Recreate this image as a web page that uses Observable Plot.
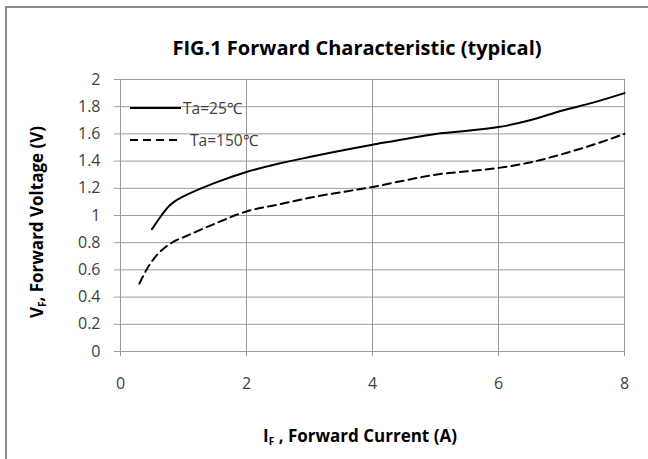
<!DOCTYPE html>
<html>
<head>
<meta charset="utf-8">
<script src="https://cdn.jsdelivr.net/npm/d3@7"></script>
<script src="https://cdn.jsdelivr.net/npm/@observablehq/plot@0.6"></script>
<style>
  html, body { margin: 0; padding: 0; background: #fff; }
  svg { display: block; }
</style>
</head>
<body>
<div id="chart"></div>
<script>
const title = "FIG.1 Forward Characteristic (typical)";
const seriesNames = ["Ta=25\u2103", "Ta=150\u2103"];
const currentTa25 = [0.5, 0.65, 0.75, 0.85, 1.0, 1.5, 2.0, 2.5, 3.0, 4.0, 5.0, 6.0, 6.5, 7.0, 7.5, 8.0];
const voltageTa25 = [0.90, 1.00, 1.06, 1.10, 1.14, 1.24, 1.32, 1.38, 1.43, 1.52, 1.60, 1.65, 1.70, 1.77, 1.83, 1.90];
const currentTa150 = [0.3, 0.45, 0.6, 0.75, 0.85, 1.0, 1.5, 2.0, 2.5, 3.0, 4.0, 5.0, 6.0, 6.5, 7.0, 7.5, 8.0];
const voltageTa150 = [0.50, 0.63, 0.72, 0.78, 0.81, 0.84, 0.94, 1.03, 1.08, 1.13, 1.21, 1.30, 1.35, 1.39, 1.45, 1.52, 1.60];
const xTicks = [0, 2, 4, 6, 8];
const yTicks = [0, 0.2, 0.4, 0.6, 0.8, 1, 1.2, 1.4, 1.6, 1.8, 2];

const d25 = currentTa25.map((x, i) => ({x, y: voltageTa25[i]}));
const d150 = currentTa150.map((x, i) => ({x, y: voltageTa150[i]}));

const font = "'Open Sans', sans-serif";
const textColor = "#404040";
const gridColor = "#9a9a9a";
const dash = "8,5";

const plot = Plot.plot({
  width: 648,
  height: 459,
  marginLeft: 120,
  marginRight: 24,
  marginTop: 79,
  marginBottom: 108,
  style: {fontFamily: font, fontSize: "16px", color: textColor, background: "#fff"},
  x: {domain: [0, 8], ticks: xTicks},
  y: {domain: [0, 2], ticks: yTicks},
  marks: [
    Plot.gridX(xTicks, {stroke: gridColor, strokeOpacity: 1, strokeWidth: 1}),
    Plot.gridY(yTicks, {stroke: gridColor, strokeOpacity: 1, strokeWidth: 1}),
    Plot.axisX(xTicks, {tickSize: 5, stroke: gridColor, tickPadding: 21, label: null, fill: textColor, tickFormat: d => String(d)}),
    Plot.axisY(yTicks, {tickSize: 6, stroke: gridColor, tickPadding: 14, label: null, fill: textColor, tickFormat: d => String(d)}),
    Plot.ruleX([0], {stroke: gridColor}),
    Plot.ruleY([0], {stroke: gridColor}),
    Plot.line(d25, {x: "x", y: "y", stroke: "#000", strokeWidth: 2, curve: "monotone-x"}),
    Plot.line(d150, {x: "x", y: "y", stroke: "#000", strokeWidth: 2, strokeDasharray: dash, curve: "monotone-x"})
  ]
});

const svg = d3.select(plot);

// outer chart-area border (top & left visible, extends past viewport)
svg.insert("rect", ":first-child")
  .attr("x", 6).attr("y", 7).attr("width", 700).attr("height", 500)
  .attr("fill", "none").attr("stroke", "#8a8a8a").attr("stroke-width", 2);

// title
svg.append("text")
  .attr("x", 357).attr("y", 55)
  .attr("text-anchor", "middle")
  .attr("font-family", font).attr("font-weight", "bold").attr("font-size", 20)
  .attr("fill", "#000")
  .text(title);

// y axis label
const yl = svg.append("text")
  .attr("transform", "translate(43,222) rotate(-90)")
  .attr("text-anchor", "middle")
  .attr("font-family", font).attr("font-weight", "bold").attr("font-size", 17)
  .attr("fill", "#000");
yl.append("tspan").text("V");
yl.append("tspan").attr("font-size", 10).attr("dy", 3).text("F");
yl.append("tspan").attr("dy", -3).text(", Forward Voltage (V)");

// x axis label
const xl = svg.append("text")
  .attr("x", 360).attr("y", 442)
  .attr("text-anchor", "middle")
  .attr("font-family", font).attr("font-weight", "bold").attr("font-size", 17)
  .attr("fill", "#000");
xl.append("tspan").text("I");
xl.append("tspan").attr("font-size", 10).attr("dy", 3).text("F");
xl.append("tspan").attr("dy", -3).text(" , Forward Current (A)");

// legend
const legendRows = [
  {name: seriesNames[0], y: 108, dash: null, tx: 183},
  {name: seriesNames[1], y: 140, dash: dash, tx: 190}
];
legendRows.forEach(r => {
  svg.append("line")
    .attr("x1", 130).attr("x2", 181).attr("y1", r.y).attr("y2", r.y)
    .attr("stroke", "#000").attr("stroke-width", 2)
    .attr("stroke-dasharray", r.dash);
  svg.append("text")
    .attr("x", r.tx).attr("y", r.y + 5.5)
    .attr("text-anchor", "start")
    .attr("font-family", font).attr("font-size", 15.5)
    .attr("fill", textColor)
    .text(r.name);
});

document.getElementById("chart").appendChild(plot);
</script>
</body>
</html>
